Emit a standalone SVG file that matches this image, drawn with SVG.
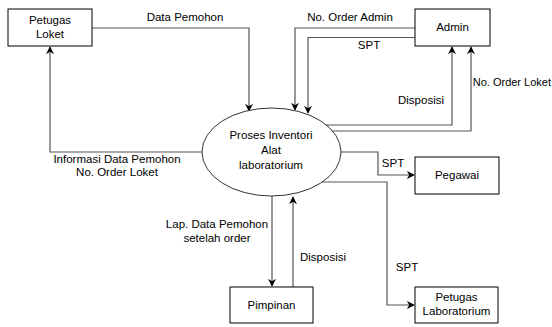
<svg xmlns="http://www.w3.org/2000/svg" width="552" height="327" viewBox="0 0 552 327">
<defs>
<marker id="arr" viewBox="0 0 10 10" refX="9" refY="5" markerWidth="8" markerHeight="8" markerUnits="userSpaceOnUse" orient="auto"><path d="M0,0 L10,5 L0,10 L3,5 z" fill="#000"/></marker>
<style>
.box{fill:#fff;stroke:#000;stroke-width:1}
.ln{fill:none;stroke:#555;stroke-width:1.2;marker-end:url(#arr)}
text{font-family:"Liberation Sans",Arial,sans-serif;font-size:11.5px;fill:#000}
.c{text-anchor:middle}
</style>
</defs>
<rect width="552" height="327" fill="#fff"/>
<g id="connectors">
<polyline class="ln" points="92,28 249,28 249,111"/>
<polyline class="ln" points="415,28 295,28 295,110"/>
<polyline class="ln" points="415,37.5 308,37.5 308,113"/>
<polyline class="ln" points="314,125 452,125 452,47"/>
<polyline class="ln" points="330,131 471,131 471,47"/>
<polyline class="ln" points="341,152 378,152 378,175 414,175"/>
<polyline class="ln" points="322,182 387,182 387,305 414,305"/>
<polyline class="ln" points="272,196 272,286"/>
<polyline class="ln" points="293,287 293,197"/>
<polyline class="ln" points="202,152 50,152 50,47"/>
<text class="c" x="185" y="21">Data Pemohon</text>
<text class="c" x="350" y="21">No. Order Admin</text>
<text class="c" x="369" y="49">SPT</text>
<text class="c" x="421" y="104">Disposisi</text>
<text x="551" y="86" text-anchor="end" style="font-size:11px">No. Order Loket</text>
<text class="c" x="393" y="167">SPT</text>
<text class="c" x="407" y="271">SPT</text>
<text class="c" x="217" y="228">Lap. Data Pemohon</text>
<text class="c" x="217" y="242">setelah order</text>
<text class="c" x="323" y="261">Disposisi</text>
<text class="c" x="117" y="163">Informasi Data Pemohon</text>
<text class="c" x="117" y="176">No. Order Loket</text>
</g>
<g id="process">
<ellipse cx="271.5" cy="152" rx="69.5" ry="44" fill="#fff" stroke="#333" stroke-width="1"/>
<text class="c" x="271" y="139">Proses Inventori</text>
<text class="c" x="271" y="154">Alat</text>
<text class="c" x="271" y="169">laboratorium</text>
</g>
<g id="petugas-loket">
<rect class="box" x="8" y="9" width="84" height="37"/>
<text class="c" x="50" y="24">Petugas</text>
<text class="c" x="50" y="38">Loket</text>
</g>
<g id="admin">
<rect class="box" x="415" y="9" width="75" height="37"/>
<text class="c" x="452.5" y="31">Admin</text>
</g>
<g id="pegawai">
<rect class="box" x="415" y="157" width="84" height="37"/>
<text class="c" x="457" y="179">Pegawai</text>
</g>
<g id="pimpinan">
<rect class="box" x="230" y="287" width="83" height="36"/>
<text class="c" x="271.5" y="309">Pimpinan</text>
</g>
<g id="petugas-lab">
<rect class="box" x="415" y="287" width="83" height="36"/>
<text class="c" x="456.5" y="301">Petugas</text>
<text class="c" x="456.5" y="315">Laboratorium</text>
</g>
</svg>
